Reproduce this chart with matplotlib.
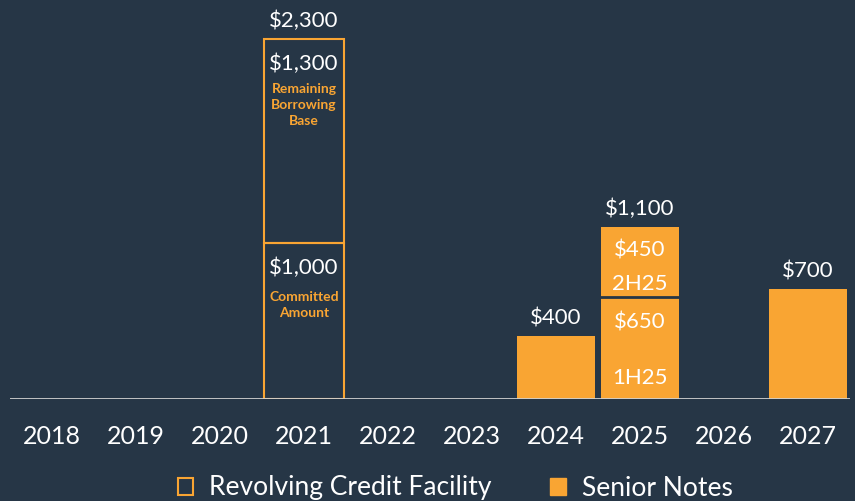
import matplotlib
matplotlib.use("Agg")
import matplotlib.pyplot as plt
from matplotlib.patches import Patch

years = ["2018", "2019", "2020", "2021", "2022", "2023", "2024", "2025", "2026", "2027"]
revolver_committed = [0, 0, 0, 1000, 0, 0, 0, 0, 0, 0]
revolver_remaining = [0, 0, 0, 1300, 0, 0, 0, 0, 0, 0]
notes_first = [0, 0, 0, 0, 0, 0, 400, 650, 0, 700]
notes_second = [0, 0, 0, 0, 0, 0, 0, 450, 0, 0]
totals = [a + b + c + d for a, b, c, d in zip(revolver_committed, revolver_remaining, notes_first, notes_second)]

BG = "#263646"
ORANGE = "#F9A533"
WHITE = "#FFFFFF"

plt.rcParams["font.family"] = ["Lato", "DejaVu Sans"]

fig = plt.figure(figsize=(8.55, 5.01), dpi=100, facecolor=BG)
ax = fig.add_axes([10 / 855, (501 - 399) / 501, 840 / 855, 399 / 501])
ax.set_facecolor(BG)
ax.set_xlim(-0.5, 9.5)
ax.set_ylim(0, 2550)

x = list(range(len(years)))
w = 0.95
for i in x:
    if revolver_committed[i]:
        ax.bar(i, revolver_committed[i], width=w, facecolor="none", edgecolor=ORANGE, lw=1.5)
        ax.bar(i, revolver_remaining[i], bottom=revolver_committed[i], width=w,
               facecolor="none", edgecolor=ORANGE, lw=1.5)
ax.bar(x, notes_first, width=w * 0.97, color=ORANGE, lw=0, zorder=2)
ax.bar(x, notes_second, bottom=notes_first, width=w * 0.97, color=ORANGE, lw=0, zorder=2)
for i in x:
    if notes_second[i]:
        ax.plot([i - w / 2, i + w / 2], [notes_first[i], notes_first[i]], color=BG, lw=2, zorder=3)

ax.axhline(0, color="#D0D0D0", lw=2, zorder=4)

for s in ax.spines.values():
    s.set_visible(False)
ax.set_yticks([])
ax.set_xticks(x)
ax.set_xticklabels(years, color=WHITE, fontsize=18)
ax.tick_params(axis="x", length=0, pad=19)

vfs = 16
for i in x:
    if totals[i]:
        ax.annotate(f"${totals[i]:,}", (i, totals[i]), xytext=(0, 13), textcoords="offset points",
                    ha="center", va="center", color=WHITE, fontsize=vfs)

for i in x:
    if revolver_committed[i]:
        top = revolver_committed[i] + revolver_remaining[i]
        ax.annotate(f"${revolver_remaining[i]:,}", (i, top), xytext=(0, -18), textcoords="offset points",
                    ha="center", va="center", color=WHITE, fontsize=vfs)
        ax.annotate("Remaining\nBorrowing\nBase", (i, top), xytext=(0, -47.5), textcoords="offset points",
                    ha="center", va="center", color=ORANGE, fontsize=10, fontweight="bold",
                    linespacing=1.38)
        ax.annotate(f"${revolver_committed[i]:,}", (i, revolver_committed[i]), xytext=(0, -18),
                    textcoords="offset points", ha="center", va="center", color=WHITE, fontsize=vfs)
        ax.annotate("Committed\nAmount", (i, revolver_committed[i]), xytext=(0, -45),
                    textcoords="offset points", ha="center", va="center", color=ORANGE, fontsize=10,
                    fontweight="bold", linespacing=1.38)

for i in x:
    if notes_second[i]:
        top = notes_first[i] + notes_second[i]
        ax.annotate(f"${notes_second[i]:,}", (i, top), xytext=(0, -17), textcoords="offset points",
                    ha="center", va="center", color=WHITE, fontsize=vfs)
        ax.annotate("2H25", (i, top), xytext=(0, -41), textcoords="offset points",
                    ha="center", va="center", color=WHITE, fontsize=vfs)
        ax.annotate(f"${notes_first[i]:,}", (i, notes_first[i]), xytext=(0, -18), textcoords="offset points",
                    ha="center", va="center", color=WHITE, fontsize=vfs)
        ax.annotate("1H25", (i, 0), xytext=(0, 15), textcoords="offset points",
                    ha="center", va="center", color=WHITE, fontsize=vfs)

handles = [Patch(facecolor="none", edgecolor=ORANGE, lw=1.5, label="Revolving Credit Facility"),
           Patch(facecolor=ORANGE, edgecolor=ORANGE, label="Senior Notes")]
leg = fig.legend(handles=handles, loc="center", bbox_to_anchor=(455 / 855, 1 - 488 / 501), ncol=2,
                 frameon=False, fontsize=19, labelcolor=WHITE, handlelength=0.6, handleheight=0.6,
                 handletextpad=0.6, columnspacing=2.2, borderpad=0, borderaxespad=0)

fig.savefig("out.png", dpi=100, facecolor=BG)
